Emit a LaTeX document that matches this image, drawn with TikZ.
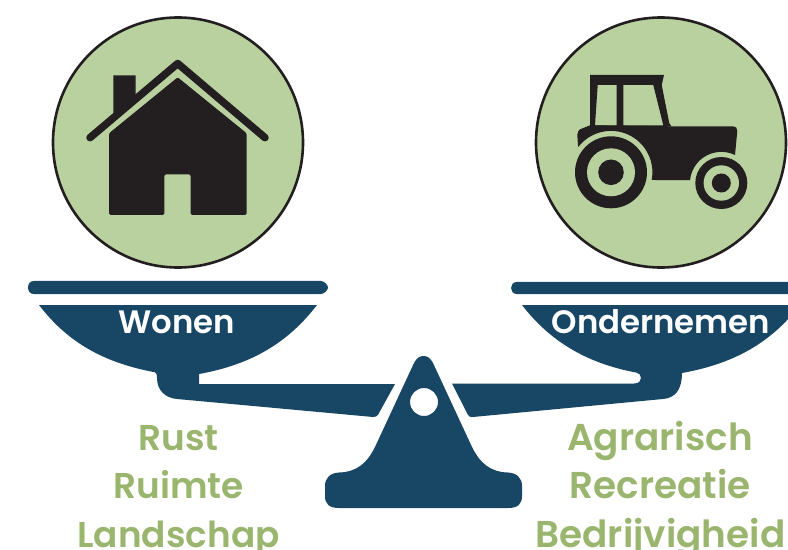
\documentclass[tikz,border=0pt]{standalone}
\usepackage{fontspec}
\setmainfont{Poppins}[BoldFont={Poppins SemiBold}]
\definecolor{navy}{HTML}{184665}
\definecolor{sage}{HTML}{B9D19F}
\definecolor{ink}{HTML}{231F20}
\definecolor{leaf}{HTML}{9AB56E}
\tikzset{
  plate/.style={fill=navy,draw=none},
  disc/.style={circle,draw=ink,line width=2.6bp,fill=sage,minimum size=250bp,inner sep=0pt},
  icon/.style={fill=ink,draw=none},
  panlabel/.style={text=white,font=\fontsize{32.5}{38}\selectfont\bfseries,inner sep=0pt,anchor=base},
  keyword/.style={text=leaf,font=\fontsize{36}{42}\selectfont\bfseries,inner sep=0pt,anchor=base},
  keywordwide/.style={keyword,font=\fontsize{37.5}{44}\selectfont\bfseries},
}
\begin{document}
\begin{tikzpicture}[x=1bp,y=-1bp]
\useasboundingbox (0,0) rectangle (788,550);
\clip (0,0) rectangle (788,550);
\node[disc] (dl) at (178,142.5) {};
\node[disc] (dr) at (661,142.5) {};
% house
\fill[icon] (113.3,75.3) -- (135.7,75.3) -- (135.7,95) -- (113.3,115) -- cycle;
\draw[ink,line width=7.5bp,line cap=round,line join=round] (90,137.7) -- (177.7,63.5) -- (265,137.7);
\fill[icon,rounded corners=1.5bp] (177.7,77.3) -- (246.7,133.3) -- (246.7,215) -- (190.7,215) -- (190.7,174.3) -- (164.3,174.3) -- (164.3,215) -- (109,215) -- (109,133.3) -- cycle;
% tractor
\fill[icon,even odd rule] (590,75) -- (664,75) -- (661.7,85) -- (669.3,123.3) -- (671.7,126.5) -- (590,126.5) -- cycle
 (597.7,85) -- (616.7,85) -- (616.7,125.3) -- (595,125.3) -- cycle
 (623.3,85) -- (653.3,85) -- (663.3,125.3) -- (623.3,125.3) -- cycle;
\fill[icon] (580,129.3) -- (590,125.3) -- (671.7,126.3) -- (733,126.3) .. controls (736,126.3) and (737.3,128) .. (737.3,131) -- (735,155)
 -- plot[domain=64:174,samples=30] ({721.3+31.4*cos(\x)},{183.3-31.4*sin(\x)}) -- (651.7,180)
 -- plot[domain=-10.7:142.6,samples=40] ({611+41.4*cos(\x)},{172.3-41.4*sin(\x)})
 -- (577.3,135) .. controls (577.5,132) and (578.5,130.5) .. (580,129.3) -- cycle;
\fill[icon] (611,172.3) circle[radius=36];
\fill[sage] (611,172.3) circle[radius=24];
\fill[icon] (611,172.3) circle[radius=12.8];
\fill[icon] (721.3,183) circle[radius=26];
\fill[sage] (721.3,183) circle[radius=17.7];
\fill[icon] (721.3,183) circle[radius=9.5];
% left pan
\fill[plate] (34,281) -- (321,281) .. controls (324,281) and (328,285) .. (328,287.5) .. controls (328,290) and (324,294) .. (321,294) -- (34,294) .. controls (30,294) and (28,291) .. (28,287.5) .. controls (28,284) and (30,281) .. (34,281) -- cycle;
\fill[plate] (39,305) -- (317,305) .. controls (290,340) and (255,364) .. (199,374) -- (199,384) -- (395,384) -- (378.5,414) .. controls (377,416.5) and (376,417) .. (373,417) -- (177,399) .. controls (165,398) and (157,390) .. (157,378) .. controls (157,374) and (156,372.5) .. (155,372.3) .. controls (100,362) and (66,340) .. (39,305) -- cycle;
% right pan
\fill[plate] (517,282) -- (800,282) -- (800,294) -- (517,294) .. controls (513,294) and (511,291) .. (511,288) .. controls (511,285) and (513,282) .. (517,282) -- cycle;
\fill[plate] (522,305) -- (800,305) .. controls (773,340) and (738,363) .. (682,373) .. controls (682,390) and (675,398) .. (663,399) -- (473,417) .. controls (470,417.3) and (469,416.5) .. (468,415) -- (452,383.5) -- (634,383.5) .. controls (639,383.5) and (641,381) .. (641,378) .. controls (641,375) and (639,373) .. (636,372.5) .. controls (585,363) and (549,340) .. (522,305) -- cycle;
% fulcrum
\fill[plate,even odd rule] (414,363) .. controls (417,357.5) and (420,356) .. (423.5,356) .. controls (427,356) and (430,357.5) .. (433,363) -- (472,447) .. controls (480,463) and (490,472) .. (508,472.5) .. controls (517,473) and (522,478) .. (522,486) -- (522,496) .. controls (522,504) and (518,508) .. (508,508) -- (339,508) .. controls (329,508) and (325,504) .. (325,496) -- (325,486) .. controls (325,478) and (330,473) .. (339,472.5) .. controls (357,472) and (367,463) .. (375,447) -- cycle
 (438,402) arc[start angle=0,end angle=360,radius=14] -- cycle;
% texts
\node[panlabel] (w) at (177,333) {Wonen};
\node[panlabel] (o) at (661,333) {Ondernemen};
\node[keyword] (k1) at (178.5,450) {Rust};
\node[keyword] (k2) at (178.5,498) {Ruimte};
\node[keyword] (k3) at (178.5,547) {Landschap};
\node[keywordwide] (k4) at (660,450) {Agrarisch};
\node[keywordwide] (k5) at (660,498) {Recreatie};
\node[keywordwide] (k6) at (660.5,547) {Bedrijvigheid};
\end{tikzpicture}
\end{document}
